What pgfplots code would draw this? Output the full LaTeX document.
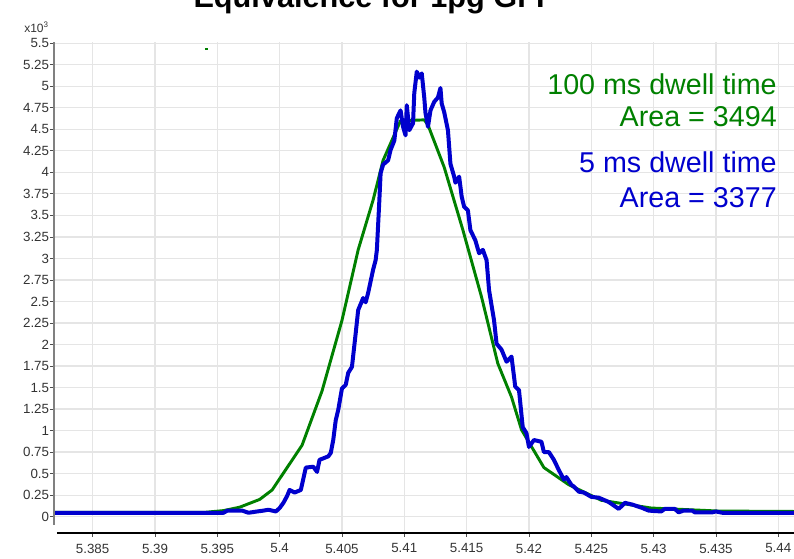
\documentclass[border=0pt]{standalone}
\usepackage{fontspec}
\setmainfont{Liberation Sans}
\usepackage{pgfplots}
\pgfplotsset{compat=1.18}
\definecolor{lgreen}{RGB}{0,128,0}
\definecolor{lblue}{RGB}{0,0,205}
\definecolor{gridgray}{RGB}{229,229,229}
\definecolor{ticktext}{RGB}{51,51,51}
\begin{document}
\begin{tikzpicture}
\begin{axis}[
  at={(0pt,0pt)}, anchor=south west,
  scale only axis,
  width=555pt, height=368.25pt,
  xmin=5.38190, xmax=5.44126,
  ymin=-0.19, ymax=5.515,
  axis line style={draw=none},
  tick pos=left,
  tick align=outside,
  major tick length=3pt,
  tick style={black!70, line width=0.6pt},
  grid=major,
  major grid style={color=gridgray, line width=0.9pt},
  xtick={5.385,5.39,5.395,5.4,5.405,5.41,5.415,5.42,5.425,5.43,5.435,5.44},
  xticklabels={5.385,5.39,5.395,5.4,5.405,5.41,5.415,5.42,5.425,5.43,5.435,5.44},
  ytick={0,0.25,0.5,0.75,1,1.25,1.5,1.75,2,2.25,2.5,2.75,3,3.25,3.5,3.75,4,4.25,4.5,4.75,5,5.25,5.5},
  yticklabels={0,0.25,0.5,0.75,1,1.25,1.5,1.75,2,2.25,2.5,2.75,3,3.25,3.5,3.75,4,4.25,4.5,4.75,5,5.25,5.5},
  ticklabel style={font=\fontsize{10}{12}\selectfont, text=ticktext},
  yticklabel style={inner xsep=0.5pt},
  xticklabel style={yshift=-1.5pt},
  /pgf/number format/assume math mode=true,
]
% green 100 ms dwell time
\addplot[color=lgreen, line width=2.2pt, line join=round] coordinates {
(5.3819,0.05) (5.3940,0.05) (5.3955,0.07) (5.3968,0.11) (5.3984,0.20)
(5.3994,0.31) (5.4000,0.44) (5.4018,0.83) (5.4034,1.46) (5.4050,2.28)
(5.4063,3.10) (5.4075,3.68) (5.4083,4.14) (5.4097,4.60) (5.4116,4.61)
(5.4119,4.55) (5.4132,4.06) (5.4147,3.33) (5.4162,2.55) (5.4175,1.78)
(5.4186,1.39) (5.4194,1.01) (5.4212,0.57) (5.4232,0.37) (5.4258,0.19)
(5.4298,0.10) (5.4352,0.065) (5.4413,0.06)
};
\addplot[color=lgreen, line width=1.5pt] coordinates {(5.39400,5.437) (5.39425,5.437)};
% blue 5 ms dwell time
\addplot[color=lblue, line width=3pt, line join=round] coordinates {
(5.3819,0.045) (5.3955,0.045) (5.3958,0.07) (5.3970,0.07) (5.3975,0.045)
(5.3982,0.06) (5.3987,0.07) (5.3991,0.08) (5.3997,0.06) (5.4000,0.10)
(5.4003,0.16) (5.4006,0.24) (5.4008,0.31) (5.4012,0.28) (5.4017,0.31)
(5.4021,0.57) (5.4027,0.58) (5.4030,0.52) (5.4032,0.66) (5.4039,0.70)
(5.4041,0.74) (5.4043,0.89) (5.4045,1.12) (5.4047,1.24) (5.4050,1.49)
(5.4053,1.53) (5.4055,1.67) (5.4058,1.74) (5.4061,2.13) (5.4063,2.40)
(5.4067,2.54) (5.4069,2.49) (5.4071,2.60) (5.4075,2.87) (5.4077,2.98)
(5.4078,3.10) (5.4080,3.68) (5.4081,3.99) (5.4083,4.09) (5.4087,4.14)
(5.4089,4.26) (5.4092,4.37) (5.4094,4.63) (5.4097,4.72) (5.4099,4.53)
(5.4101,4.43) (5.4102,4.78) (5.4104,4.49) (5.4107,4.57) (5.4108,4.92)
(5.4110,5.17) (5.4112,5.10) (5.4114,5.15) (5.4116,4.87) (5.4117,4.69)
(5.4119,4.53) (5.4121,4.72) (5.4124,4.82) (5.4127,4.87) (5.4129,4.98)
(5.4130,4.80) (5.4132,4.70) (5.4135,4.49) (5.4137,4.10) (5.4140,3.95)
(5.4141,3.88) (5.4144,3.95) (5.4146,3.72) (5.4148,3.60) (5.4151,3.56)
(5.4153,3.33) (5.4157,3.21) (5.4160,3.06) (5.4163,3.10) (5.4166,2.98)
(5.4168,2.63) (5.4172,2.28) (5.4174,2.01) (5.4178,1.94) (5.4182,1.80)
(5.4186,1.86) (5.4189,1.51) (5.4192,1.47) (5.4195,1.04) (5.4198,0.97)
(5.4200,0.81) (5.4204,0.89) (5.4210,0.87) (5.4212,0.75) (5.4216,0.75)
(5.4220,0.66) (5.4224,0.54) (5.4228,0.43) (5.4230,0.46) (5.4234,0.37)
(5.4236,0.35) (5.4240,0.29) (5.4244,0.28) (5.4250,0.23) (5.4256,0.22)
(5.4264,0.17) (5.4272,0.09) (5.4277,0.16) (5.4283,0.14) (5.4291,0.10)
(5.4296,0.07) (5.4306,0.06) (5.4309,0.09) (5.4317,0.09) (5.4320,0.05)
(5.4324,0.07) (5.4331,0.07) (5.4333,0.05) (5.4347,0.05) (5.4350,0.06)
(5.4355,0.045) (5.4413,0.045)
};
\end{axis}
% axis lines
\draw[color=black!50, line width=1.5pt] (0pt,6pt) -- (0pt,368.25pt);
\draw[color=black, line width=1pt] (2.25pt,0pt) -- (555pt,0pt);
% annotations
\node[anchor=base east, inner sep=0pt, text=lgreen, font=\fontsize{21.5}{26}\selectfont] at (542.25pt,328.5pt) {100 ms dwell time};
\node[anchor=base east, inner sep=0pt, text=lgreen, font=\fontsize{21.5}{26}\selectfont] at (542.25pt,304.5pt) {Area = 3494};
\node[anchor=base east, inner sep=0pt, text=lblue, font=\fontsize{21.5}{26}\selectfont] at (542.25pt,270pt) {5 ms dwell time};
\node[anchor=base east, inner sep=0pt, text=lblue, font=\fontsize{21.5}{26}\selectfont] at (542.25pt,243.75pt) {Area = 3377};
% exponent label
\node[anchor=base west, inner sep=0pt, text=ticktext, font=\fontsize{9}{11}\selectfont] at (-22.5pt,375pt) {x10\textsuperscript{3}};
% title (cut at the top)
\node[anchor=base, inner sep=0pt, font=\bfseries\fontsize{23}{28}\selectfont] at (240.75pt,394.3pt) {Equivalence for 1pg GFP};
\pgfresetboundingbox
\path[use as bounding box] (-40.5pt,-19.5pt) rectangle (555pt,399.75pt);
\end{tikzpicture}
\end{document}
